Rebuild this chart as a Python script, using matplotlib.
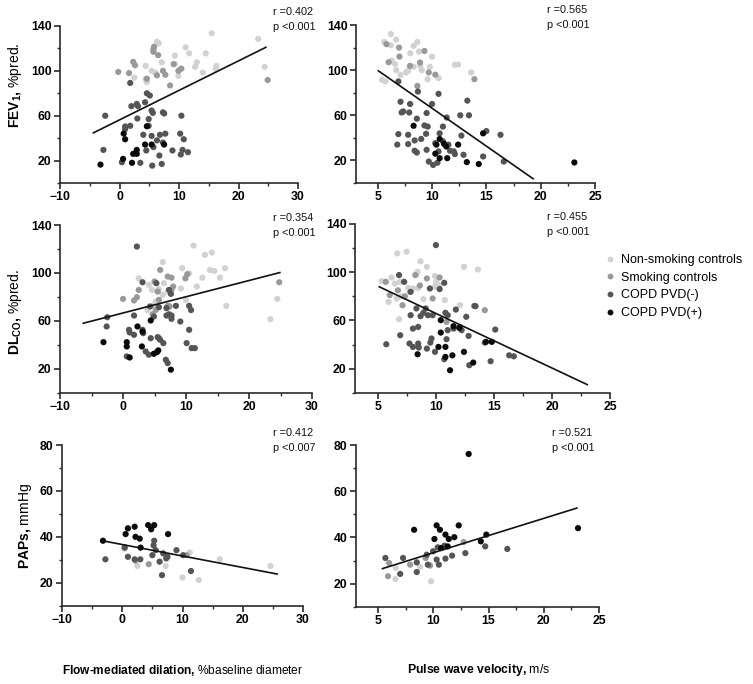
import numpy as np
import matplotlib
matplotlib.use('Agg')
import matplotlib.pyplot as plt
from matplotlib.ticker import MultipleLocator
from matplotlib.lines import Line2D

plt.rcParams['font.family'] = ['Liberation Sans', 'DejaVu Sans']
plt.rcParams['mathtext.fontset'] = 'custom'
plt.rcParams['mathtext.rm'] = 'Liberation Sans'
plt.rcParams['mathtext.bf'] = 'Liberation Sans:bold'
plt.rcParams['mathtext.it'] = 'Liberation Sans:italic'
plt.rcParams['mathtext.sf'] = 'Liberation Sans'

# ---------------- data ----------------
groups = ["Non-smoking controls", "Smoking controls", "COPD PVD(-)", "COPD PVD(+)"]
group_colors = ["#d2d2d2", "#999999", "#555555", "#0a0a0a"]

# FEV1 vs FMD
fev_fmd_ns = [(15.5,133.5),(23.3,128.5),(6.3,126),(6.6,124.5),(11.1,121),(11.7,115.6),(14.5,115.6),
              (9.3,113.6),(7.1,107.6),(13.0,107.6),(9.3,106),(4.4,104.5),(16.3,104.5),(24.4,103.6),
              (12.7,103.6),(10.2,101.5),(5.4,100),(14.0,98.5),(6.0,98.5),(9.9,95.5),(4.4,92.5),
              (2.5,94),(16.2,101.5),(4.6,90)]
fev_fmd_sm = [(5.7,119),(5.7,117),(5.8,121.5),(6.5,114),(2.3,108),(2.6,105),(1.6,98),(-0.2,99),
              (7.3,100),(7.7,96.5),(9.1,106),(10.4,102),(9.9,100),(24.9,91.8),(8.5,87),(6.3,96),(4.6,93)]
fev_fmd_neg = [(1.8,89.2),(4.6,80),(5.1,78),(4.3,72),(2.0,68.5),(2.9,70.5),(3.1,68.5),(-2.4,60),
               (5.4,64.6),(5.6,62.5),(7.3,63),(7.5,62),(10.4,60),(3.0,57.5),(4.9,57),(4.9,51),
               (0.95,50.4),(1.8,51),(0.95,48),(4.0,43),(5.4,42),(6.8,43),(7.7,44),(10.2,44),
               (10.8,39),(6.3,38),(7.3,36),(4.5,29),(5.7,32),(8.9,29),(10.6,29.5),(11.5,27.5),
               (10.3,25.4),(6.7,24.5),(3.5,18),(7.1,17),(5.5,15.5),(-2.7,29.5),(0.4,18.5)]
fev_fmd_pos = [(-3.2,16.4),(0.7,44),(0.95,39),(4.6,50.6),(4.3,34.3),(5.4,34.3),(7.5,34.3),
               (2.9,29.5),(2.3,26),(2.9,26),(0.6,21.5),(2.1,18)]
fev_fmd_fit_x = [-4.4, 24.6]
fev_fmd_fit_y = [44.7, 121.0]

# FEV1 vs PWV
fev_pwv_ns = [(6.2,132),(5.6,125),(6.7,127),(6.2,122),(8.65,125),(8.3,121.5),(8.0,115),(8.8,116.5),
              (10.0,112),(6.3,108.4),(6.6,105.5),(6.7,100),(7.1,95.8),(7.6,98),(7.8,99.4),(8.3,103),
              (8.9,104),(9.05,100),(9.6,92),(10.6,93),(12.1,104.7),(12.4,105),(13.6,98),(5.4,91.4),
              (5.7,90),(9.8,103)]
fev_pwv_sm = [(5.8,123),(6.96,120),(7.0,112),(6.0,107),(7.97,103.8),(8.9,106.7),(9.3,117),(9.7,98),
              (10.3,96),(13.9,92),(8.65,86)]
fev_pwv_neg = [(6.9,90),(8.7,81),(10.6,79),(7.1,72),(7.98,70),(10.0,70),(7.2,62.5),(7.35,63.4),
               (7.9,62.5),(9.5,62),(8.6,57),(11.35,58),(13.25,73),(13.4,60),(12.6,60),(9.3,51),
               (9.6,50),(11.0,50),(7.8,42.7),(6.9,43.3),(9.45,43.6),(10.7,44),(15.0,46),(16.3,42.7),
               (12.7,42),(8.4,37.7),(9.0,39),(7.8,34.5),(6.8,34),(10.3,35.3),(11.0,37),(11.5,34),
               (12.0,28),(12.1,25.6),(8.4,28.6),(8.6,27),(9.5,29.4),(10.6,28),(11.65,28.6),(12.9,25),
               (14.7,23.5),(9.7,19),(10.1,16),(10.5,18),(16.6,19)]
fev_pwv_pos = [(8.3,50.7),(14.7,44),(10.7,39),(10.4,34),(11.1,34.7),(11.3,32.4),(12.4,34),(10.3,26),
               (10.7,22),(11.4,22),(13.2,18.5),(14.3,16.8),(23.1,18.2)]
fev_pwv_fit_x = [5.06, 19.3]
fev_pwv_fit_y = [99.4, 3.8]

# DLCO vs FMD
dl_fmd_ns = [(11.2,122.8),(13.0,115),(14.1,117),(9.4,104),(10.5,99.7),(13.8,102.5),(14.5,101.7),
             (16.2,104),(12.6,96),(15.4,96),(6.3,109),(4.1,90),(4.6,85.8),(5.7,86.4),(6.5,91.4),
             (7.1,84.4),(6.3,81.7),(10.0,77.5),(5.2,76),(3.9,69),(2.5,95.5),(4.9,73),(9.2,87),
             (11.7,88.6),(16.4,72.5),(23.4,61.4),(24.5,78.3)]
dl_fmd_sm = [(0.0,78.3),(1.75,77),(2.2,79.7),(2.5,85.8),(5.9,102.5),(7.1,97),(7.7,96),(7.96,88.6),
             (10.2,98.9),(9.9,95.5),(24.8,92.2),(5.0,92.8),(5.5,84.4),(5.7,77.5),(7.4,72),(7.7,85.8),
             (7.1,72.5),(5.2,69),(4.7,65.5)]
dl_fmd_neg = [(2.2,122),(3.1,92.2),(5.3,91.4),(7.3,85.8),(7.6,82.5),(-2.5,63),(-2.6,55.3),(1.75,64.4),
              (4.3,72),(5.7,71.4),(6.9,70.6),(6.9,64.4),(7.3,65.5),(7.7,64.4),(8.4,72.5),(10.5,72.5),
              (10.8,69),(9.1,59.4),(10.5,52.5),(0.95,52.5),(1.06,50.3),(1.75,48.3),(3.1,52.5),(3.2,49.7),
              (4.9,63.6),(4.4,45.5),(5.5,46.4),(5.9,44.2),(6.4,41.4),(5.7,45.5),(3.6,34.4),(4.1,31.7),
              (6.8,27.5),(7.1,24.7),(0.6,30.3),(10.1,41.4),(10.9,37.2),(11.4,37.2),(7.7,61.7)]
dl_fmd_pos = [(-3.1,42.2),(0.6,42.2),(0.6,38.6),(1.06,29.4),(2.3,55.3),(3.1,51),(3.0,38.6),(4.4,60.3),
              (4.9,32.5),(5.4,33.9),(5.6,35.3),(7.6,19.2)]
dl_fmd_fit_x = [-6.3, 24.9]
dl_fmd_fit_y = [58.0, 100.3]

# DLCO vs PWV
dl_pwv_ns = [(6.64,115.6),(7.45,117),(8.65,109),(9.2,104.5),(8.4,100.3),(8.3,98.4),(9.9,96.8),
             (12.4,104.5),(13.6,102.3),(5.3,92.6),(5.6,92),(6.15,95.6),(6.44,90.6),(6.87,92),(7.6,87),
             (8.0,86.5),(8.45,87),(7.73,83.7),(10.0,92),(9.9,87.9),(5.9,75.4),(6.6,78.2),(7.0,80),
             (8.9,77.6),(10.75,76.8),(12.05,72.6),(6.8,61),(10.3,89)]
dl_pwv_sm = [(5.66,92),(6.0,81),(6.7,85),(7.3,80),(7.1,72.6),(8.2,97.6),(8.6,89),(9.2,94.8),(9.7,78.2),
             (10.3,95.6),(14.2,68.5),(10.9,58.8)]
dl_pwv_neg = [(9.98,122.5),(6.8,97.6),(7.24,92),(7.8,83.7),(9.46,86.5),(10.3,86),(10.7,91.2),(8.3,69.9),
              (9.1,69.9),(7.8,64.3),(8.65,63.5),(8.9,66.3),(9.3,64.3),(9.7,64.3),(10.8,66.3),(11.0,64.3),
              (11.7,69),(12.6,63),(13.3,72),(13.4,71.8),(15.1,52.4),(6.9,47.7),(8.0,53.2),(8.45,54.6),
              (5.7,40.2),(7.7,40.8),(8.0,38),(8.5,37.5),(8.45,40.8),(9.2,36.6),(9.6,45),(9.5,41.6),
              (9.9,33.9),(10.7,27.8),(10.9,44.4),(11.0,51.9),(11.5,53.2),(12.05,54.6),(12.2,51.9),
              (12.8,47.1),(14.2,41.6),(14.7,26.1),(12.86,22.8),(16.3,31),(16.7,30.2)]
dl_pwv_pos = [(10.4,60.2),(10.4,49.9),(10.2,38),(10.8,38),(10.8,29.7),(11.4,31),(11.5,55.2),(12.0,53.8),
              (8.4,31.9),(12.4,33.9),(11.2,18.6),(13.2,25),(14.3,42.2),(14.8,42.2)]
dl_pwv_fit_x = [5.09, 23.04]
dl_pwv_fit_y = [87.9, 6.7]

# PAPs vs FMD
pap_fmd_ns = [(2.5,27.3),(7.2,27.3),(11.2,33.2),(10.0,22.3),(12.7,21.2),(16.2,30.3),(24.6,27.3)]
pap_fmd_sm = [(0.4,35),(2.2,29.6),(4.4,28.1),(10.7,32)]
pap_fmd_neg = [(-2.8,30.2),(0.4,35.4),(0.94,31.3),(2.06,30.2),(3.0,30.2),(5.3,38.3),(5.2,36.3),
               (5.55,34.2),(5.0,32),(6.8,32.8),(7.5,31.3),(7.3,30.6),(6.2,29.2),(9.0,34.2),(11.4,25.1),
               (10.1,32),(6.6,23.3)]
pap_fmd_pos = [(-3.2,38.3),(0.56,41.2),(0.94,43.7),(2.06,44.4),(2.2,40),(2.9,39.2),(4.3,45.1),(4.8,43.3),
               (5.3,45.1),(7.6,41.2),(3.05,35.3)]
pap_fmd_fit_x = [-3.3, 25.7]
pap_fmd_fit_y = [38.3, 23.8]

# PAPs vs PWV
pap_pwv_ns = [(6.6,26.8),(6.57,22),(8.8,27.2),(9.8,21)]
pap_pwv_sm = [(5.9,23.2),(6.0,28.9),(7.9,28.2),(9.7,27.8),(12.75,38),(9.3,31.1)]
pap_pwv_neg = [(5.66,31.1),(7.26,31.1),(8.5,29.2),(7.0,24.2),(8.5,25),(9.4,32.5),(9.5,28.2),(10.5,28.2),
               (9.98,34),(10.4,35.7),(11.0,36.4),(11.1,30.8),(11.7,32.1),(12.9,33.2),(14.7,36.1),
               (16.7,35),(10.3,30.4)]
pap_pwv_pos = [(13.2,76.1),(8.26,43.3),(10.3,45.2),(10.6,43.3),(10.1,39.3),(11.1,41.2),(11.9,40.1),
               (12.3,45.2),(11.4,39.3),(11.3,36.1),(14.3,38.3),(14.8,41.2),(23.1,44),(10.7,35.4)]
pap_pwv_fit_x = [5.4, 23.0]
pap_pwv_fit_y = [26.5, 52.7]

stats_r = ["r =0.402", "r =0.565", "r =0.354", "r =0.455", "r =0.412", "r =0.521"]
stats_p = ["p <0.001", "p <0.001", "p <0.001", "p <0.001", "p <0.007", "p <0.001"]

# ---------------- figure ----------------
W, H = 753, 684
fig = plt.figure(figsize=(W / 100, H / 100), dpi=100)
fig.patch.set_facecolor('white')

def rect(l, r, t, b):
    return [l / W, 1 - b / H, (r - l) / W, (b - t) / H]

panels = [
    dict(rect=rect(60, 298, 26, 183), xlim=(-10, 30), ylim=(0, 140), xmaj=10, xmin=5, ymin=20,
         yticks=[20, 60, 100, 140], data=[fev_fmd_ns, fev_fmd_sm, fev_fmd_neg, fev_fmd_pos],
         fit=(fev_fmd_fit_x, fev_fmd_fit_y), txt=(273, 12)),
    dict(rect=rect(356, 595, 25, 183), xlim=(3, 25), ylim=(0, 140), xmaj=5, xmin=2.5, ymin=20,
         yticks=[20, 60, 100, 140], data=[fev_pwv_ns, fev_pwv_sm, fev_pwv_neg, fev_pwv_pos],
         fit=(fev_pwv_fit_x, fev_pwv_fit_y), txt=(547, 10)),
    dict(rect=rect(60, 312, 225, 392.7), xlim=(-10, 30), ylim=(0, 140), xmaj=10, xmin=5, ymin=20,
         yticks=[20, 60, 100, 140], data=[dl_fmd_ns, dl_fmd_sm, dl_fmd_neg, dl_fmd_pos],
         fit=(dl_fmd_fit_x, dl_fmd_fit_y), txt=(273, 218)),
    dict(rect=rect(355, 610, 224, 392.7), xlim=(3, 25), ylim=(0, 140), xmaj=5, xmin=2.5, ymin=20,
         yticks=[20, 60, 100, 140], data=[dl_pwv_ns, dl_pwv_sm, dl_pwv_neg, dl_pwv_pos],
         fit=(dl_pwv_fit_x, dl_pwv_fit_y), txt=(547, 217)),
    dict(rect=rect(62, 303, 445, 605.7), xlim=(-10, 30), ylim=(10, 80), xmaj=10, xmin=5, ymin=10,
         yticks=[20, 40, 60, 80], data=[pap_fmd_ns, pap_fmd_sm, pap_fmd_neg, pap_fmd_pos],
         fit=(pap_fmd_fit_x, pap_fmd_fit_y), txt=(273, 433)),
    dict(rect=rect(356, 599, 445, 606.7), xlim=(3, 25), ylim=(10, 80), xmaj=5, xmin=2.5, ymin=10,
         yticks=[20, 40, 60, 80], data=[pap_pwv_ns, pap_pwv_sm, pap_pwv_neg, pap_pwv_pos],
         fit=(pap_pwv_fit_x, pap_pwv_fit_y), txt=(552, 433)),
]

spine_c = "#2a2a2a"
for i, p in enumerate(panels):
    ax = fig.add_axes(p['rect'])
    for grp, col, pts in zip(groups, group_colors, p['data']):
        arr = np.array(pts)
        ax.scatter(arr[:, 0], arr[:, 1], s=20, color=col, edgecolors='none', zorder=2, clip_on=False)
    ax.plot(p['fit'][0], p['fit'][1], color='#111111', lw=1.2, zorder=3)
    ax.set_xlim(*p['xlim'])
    ax.set_ylim(*p['ylim'])
    ax.xaxis.set_major_locator(MultipleLocator(p['xmaj']))
    ax.xaxis.set_minor_locator(MultipleLocator(p['xmin']))
    ax.set_yticks(p['yticks'])
    ax.yaxis.set_minor_locator(MultipleLocator(p['ymin']))
    for s in ['top', 'right']:
        ax.spines[s].set_visible(False)
    for s in ['left', 'bottom']:
        ax.spines[s].set_linewidth(1.2)
        ax.spines[s].set_color(spine_c)
    ax.tick_params(which='major', direction='out', length=4, width=1.2, color=spine_c,
                   labelsize=8.8, pad=2)
    ax.tick_params(which='minor', direction='out', length=2.5, width=1.0, color=spine_c)
    for lab in ax.get_xticklabels() + ax.get_yticklabels():
        lab.set_fontweight('bold')
    ax.set_facecolor('none')
    tx, ty = p['txt']
    fig.text(tx / W, 1 - ty / H, stats_r[i], fontsize=7.8, ha='left', va='center', color='#111111')
    fig.text(tx / W, 1 - (ty + 15) / H, stats_p[i], fontsize=7.8, ha='left', va='center', color='#111111')

# y labels
fig.text(15 / W, 1 - 85 / H, r"FEV$_\mathbf{1}$, $\mathrm{\%pred.}$", rotation=90, fontsize=10,
         fontweight='bold', ha='center', va='center')
fig.text(15 / W, 1 - 312 / H, r"DL$_\mathbf{CO}$, $\mathrm{\%pred.}$", rotation=90, fontsize=10,
         fontweight='bold', ha='center', va='center')
fig.text(25 / W, 1 - 526 / H, r"PAPs, $\mathrm{mmHg}$", rotation=90, fontsize=10,
         fontweight='bold', ha='center', va='center')

# x labels
fig.text(182.5 / W, 1 - 670 / H, r"Flow-mediated dilation, $\mathrm{\%baseline\ diameter}$", fontsize=8.6,
         fontweight='bold', ha='center', va='center')
fig.text(478.5 / W, 1 - 670 / H, r"Pulse wave velocity, $\mathrm{m/s}$", fontsize=8.8,
         fontweight='bold', ha='center', va='center')

# legend
handles = [Line2D([0], [0], marker='o', linestyle='none', markersize=4.2, markerfacecolor=c,
                  markeredgecolor='none') for c in group_colors]
fig.legend(handles, groups, loc='upper left', bbox_to_anchor=(605 / W, 1 - 254 / H), frameon=False,
           fontsize=9, handlelength=0.8, handletextpad=0.5, labelspacing=0.45, borderpad=0,
           borderaxespad=0)

fig.savefig('out.png', dpi=100, facecolor='white')
